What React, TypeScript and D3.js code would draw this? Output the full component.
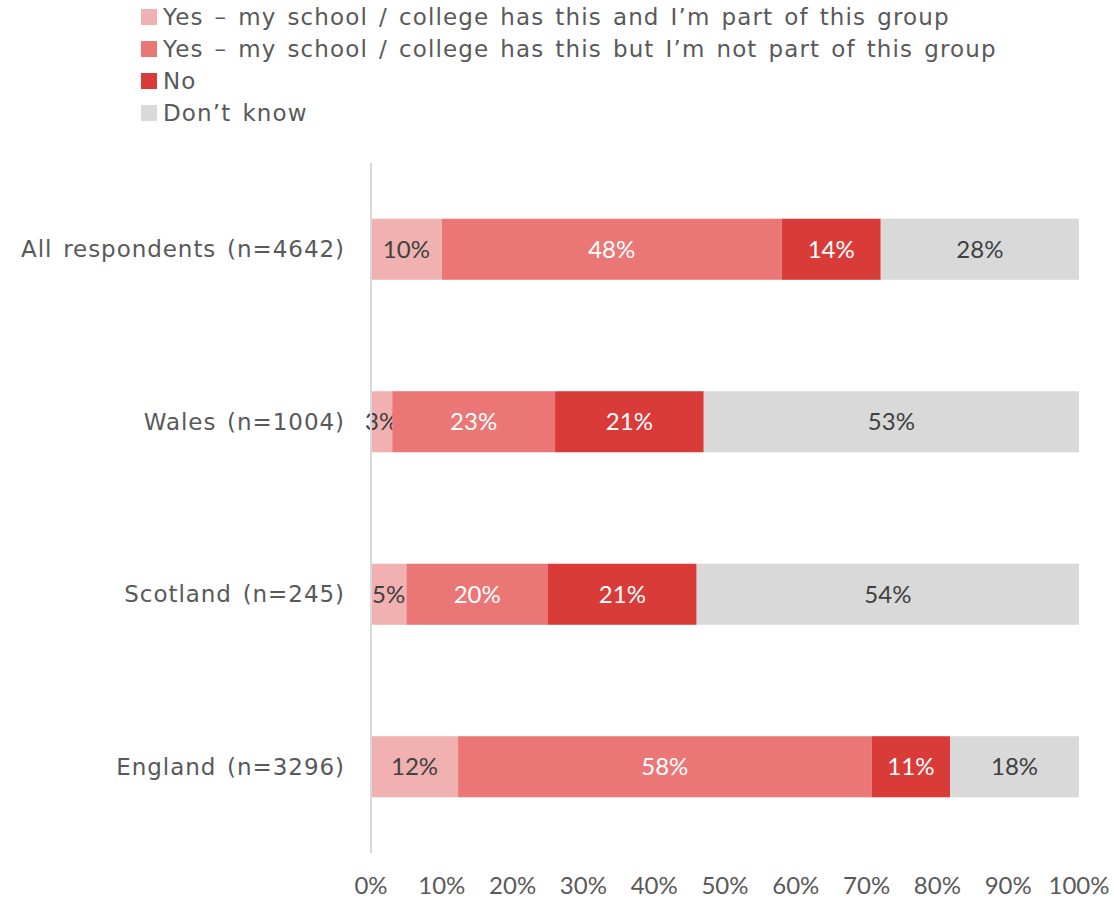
import React from "react";
import * as d3 from "d3";

const categories = ["All respondents (n=4642)", "Wales (n=1004)", "Scotland (n=245)", "England (n=3296)"];
const seriesNames = [
  "Yes \u2013 my school / college has this and I\u2019m part of this group",
  "Yes \u2013 my school / college has this but I\u2019m not part of this group",
  "No",
  "Don\u2019t know",
];
const yesPart = [10, 3, 5, 12.3];
const yesNotPart = [48, 23, 20, 58.4];
const no = [14, 21, 21, 11.1];
const dontKnow = [28, 53, 54, 18.2];
const xTicks = [0, 10, 20, 30, 40, 50, 60, 70, 80, 90, 100];

const colors = ["#F2B1B1", "#EB7676", "#D93B38", "#D9D9D9"];
const labelColors = ["#404040", "#FFFFFF", "#FFFFFF", "#404040"];

const W = 1114;
const H = 901;
const FONT = "Lato, 'Open Sans', sans-serif";
const FONT2 = "'DejaVu Sans', Verdana, sans-serif";

export default function App() {
  const series = [yesPart, yesNotPart, no, dontKnow];
  const x = d3.scaleLinear().domain([0, 100]).range([371, 1079]);
  const y = d3.scaleBand<string>().domain(categories).range([163, 853]).paddingInner(0.646).paddingOuter(0.323);

  const stackData = categories.map((c, i) => {
    const row: any = { cat: c };
    series.forEach((s, k) => (row["s" + k] = s[i]));
    return row;
  });
  const stacked = d3.stack<any>().keys(["s0", "s1", "s2", "s3"])(stackData);

  return (
    <svg width={W} height={H} style={{ display: "block", position: "absolute", left: 0, top: 0 }} fontFamily={FONT}>
      {/* legend */}
      {seriesNames.map((n, k) => (
        <g key={n} transform={`translate(141, ${17 + k * 32})`}>
          <rect x={0} y={-8} width={16} height={16} fill={colors[k]} />
          <text x={22} y={0} dy="0.35em" fontSize={23} fontFamily={FONT2} letterSpacing={1.15} wordSpacing={2.5} fill="#595959">{n}</text>
        </g>
      ))}
      {/* bars */}
      {stacked.map((layer, k) => (
        <g key={k}>
          {layer.map((d, i) => {
            const x0 = x(d[0]);
            const x1 = x(d[1]);
            const yy = y(categories[i])!;
            return (
              <g key={i}>
                <rect x={x0} y={yy} width={x1 - x0} height={y.bandwidth()} fill={colors[k]} />
                <text x={(x0 + x1) / 2} y={yy + y.bandwidth() / 2} dy="0.35em" textAnchor="middle" fontSize={24} fill={labelColors[k]}>
                  {Math.round(series[k][i])}%
                </text>
              </g>
            );
          })}
        </g>
      ))}
      {/* axis line */}
      <line x1={371} x2={371} y1={163} y2={853} stroke="#D9D9D9" strokeWidth={2} />
      {/* category labels */}
      {categories.map((c) => (
        <text key={c} x={345} y={y(c)! + y.bandwidth() / 2} dy="0.35em" textAnchor="end" fontSize={23} fontFamily={FONT2} letterSpacing={0.95} wordSpacing={2.5} fill="#595959">{c}</text>
      ))}
      {/* x ticks */}
      {xTicks.map((t) => (
        <text key={t} x={x(t)} y={886} dy="0.35em" textAnchor="middle" fontSize={24} fill="#595959">{t}%</text>
      ))}
    </svg>
  );
}
